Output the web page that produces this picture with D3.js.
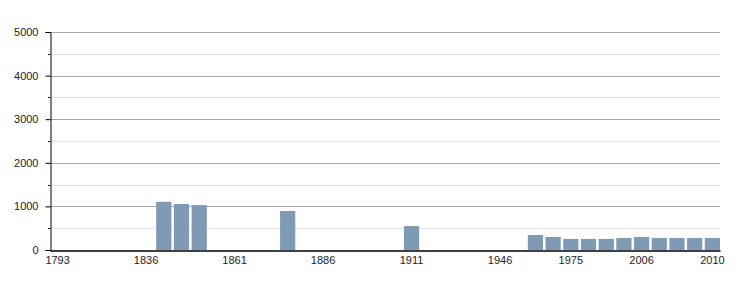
<!DOCTYPE html>
<html>
<head>
<meta charset="utf-8">
<script src="https://cdn.jsdelivr.net/npm/d3@7"></script>
<style>
  body { margin: 0; background: #fff; }
  text { font-family: "Liberation Sans", Arial, sans-serif; font-size: 11px; fill: #222; }
</style>
</head>
<body>
<svg id="chart" width="750" height="300"></svg>
<script>
// census slots (every slot gets a band, only some have a value)
const years = [1793, 1800, 1806, 1821, 1831, 1836, 1841, 1846, 1851, 1856,
               1861, 1866, 1872, 1876, 1881, 1886, 1891, 1896, 1901, 1906,
               1911, 1921, 1926, 1931, 1936, 1946, 1954, 1962, 1968, 1975,
               1982, 1990, 1999, 2006, 2007, 2008, 2009, 2010];
const popYears = [1841, 1846, 1851, 1876, 1911, 1962, 1968, 1975, 1982, 1990, 1999, 2006, 2007, 2008, 2009, 2010];
const popValues = [1105, 1055, 1030, 895, 550, 345, 300, 255, 255, 255, 275, 300, 275, 275, 275, 275];
const xLabels = [1793, 1836, 1861, 1886, 1911, 1946, 1975, 2006, 2010];
const yMajor = [0, 1000, 2000, 3000, 4000, 5000];
const yMinor = [500, 1500, 2500, 3500, 4500];

/* -------------------------------------------------------------------------- */
const svg = d3.select('#chart');
const mLeft = 50, mRight = 720, mTop = 32, mBottom = 250;

let x = d3.scaleBand().domain(years).range([mLeft, mRight])
          .paddingInner(0.14).paddingOuter(0);
let y = d3.scaleLinear().domain([0, 5000]).range([mBottom, mTop]);

// grid
svg.append('g').selectAll('line').data(yMinor).join('line')
   .attr('x1', mLeft).attr('x2', mRight)
   .attr('y1', d => Math.round(y(d)) + 0.5).attr('y2', d => Math.round(y(d)) + 0.5)
   .attr('stroke', '#e3e3e3');

svg.append('g').selectAll('line').data(yMajor.filter(d => d > 0)).join('line')
   .attr('x1', mLeft).attr('x2', mRight)
   .attr('y1', d => Math.round(y(d)) + 0.5).attr('y2', d => Math.round(y(d)) + 0.5)
   .attr('stroke', '#aaa');

// bars
svg.append('g').selectAll('rect').data(popYears).join('rect')
   .attr('x', d => x(d))
   .attr('width', x.bandwidth())
   .attr('y', (d, i) => y(popValues[i]))
   .attr('height', (d, i) => y(0) - y(popValues[i]))
   .attr('fill', '#7f9ab4');

// y axis
let yAxis = d3.axisLeft(y).tickValues(yMajor).tickSize(5).tickFormat(d3.format('d'));
let gy = svg.append('g').attr('transform', `translate(${mLeft + 0.5},0)`).call(yAxis);
gy.select('.domain').attr('stroke', '#000');
gy.selectAll('.tick line').attr('stroke', '#000');
gy.selectAll('.tick text').attr('x', -12);

svg.append('g').selectAll('line').data(yMinor).join('line')
   .attr('x1', mLeft - 2).attr('x2', mLeft)
   .attr('y1', d => Math.round(y(d)) + 0.5).attr('y2', d => Math.round(y(d)) + 0.5)
   .attr('stroke', '#000');

// x axis
let xAxis = d3.axisBottom(x).tickValues(xLabels).tickSize(0).tickPadding(6);
let gx = svg.append('g').attr('transform', `translate(0,${mBottom + 0.5})`).call(xAxis);
gx.select('.domain').attr('stroke', '#000').attr('stroke-width', 1.5);
svg.selectAll('.tick text').attr('fill', '#222')
   .style('font-size', '11px')
   .style('font-family', '"Liberation Sans", Arial, sans-serif');
</script>
</body>
</html>
